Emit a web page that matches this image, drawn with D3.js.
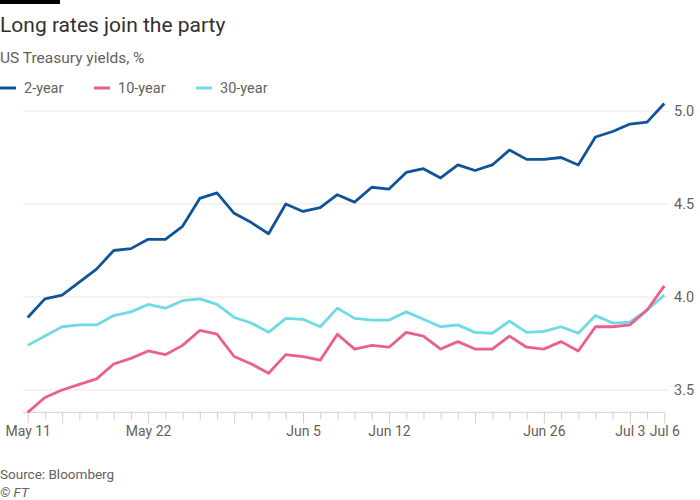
<!DOCTYPE html>
<html>
<head>
<meta charset="utf-8">
<script src="https://cdn.jsdelivr.net/npm/d3@7"></script>
<style>
  html, body { margin: 0; padding: 0; background: #ffffff; }
  svg { display: block; }
  text { font-family: Roboto, "Noto Sans", sans-serif; }
</style>
</head>
<body>
<svg id="chart" width="700" height="500"></svg>
<script>
// ---- Data ----
const dates = ["May 11","May 12","May 15","May 16","May 17","May 18","May 19",
  "May 22","May 23","May 24","May 25","May 26","May 30","May 31","Jun 1","Jun 2",
  "Jun 5","Jun 6","Jun 7","Jun 8","Jun 9","Jun 12","Jun 13","Jun 14","Jun 15","Jun 16",
  "Jun 20","Jun 21","Jun 22","Jun 23","Jun 26","Jun 27","Jun 28","Jun 29","Jun 30",
  "Jul 3","Jul 5","Jul 6"];

const twoYear = [3.89,3.99,4.01,4.08,4.15,4.25,4.26,4.31,4.31,4.38,4.53,4.56,4.45,4.40,4.34,4.50,
  4.46,4.48,4.55,4.51,4.59,4.58,4.67,4.69,4.64,4.71,4.68,4.71,4.79,4.74,4.74,4.75,4.71,4.86,4.89,
  4.93,4.94,5.04];

const tenYear = [3.38,3.46,3.50,3.53,3.56,3.64,3.67,3.71,3.69,3.74,3.82,3.80,3.68,3.64,3.59,3.69,
  3.68,3.66,3.80,3.72,3.74,3.73,3.81,3.79,3.72,3.76,3.72,3.72,3.79,3.73,3.72,3.76,3.71,3.84,3.84,
  3.85,3.93,4.06];

const thirtyYear = [3.74,3.79,3.84,3.85,3.85,3.90,3.92,3.96,3.94,3.98,3.99,3.96,3.89,3.86,3.81,3.885,
  3.88,3.84,3.94,3.885,3.876,3.876,3.92,3.88,3.84,3.85,3.81,3.805,3.87,3.81,3.815,3.84,3.805,3.90,3.86,
  3.865,3.93,4.01];

const seriesNames = ["2-year", "10-year", "30-year"];
const seriesColors = ["#0f5499", "#eb5e8d", "#6fdae4"];
const yTicks = [3.5, 4.0, 4.5, 5.0];
const xTickLabels = ["May 11","May 22","Jun 5","Jun 12","Jun 26","Jul 3","Jul 6"];

// ---- Layout ----
const svg = d3.select("#chart");

const x = d3.scalePoint().domain(dates).range([27.7, 664.3]);
const y = d3.scaleLinear().domain([3.5, 5.0]).range([390, 111]);
const allVals = twoYear.concat(tenYear, thirtyYear);
const plotBottom = y(d3.min(allVals));
const gridLeft = 23, gridRight = 668;

// Top black bar
svg.append("rect").attr("x", 0).attr("y", 0).attr("width", 60).attr("height", 4).attr("fill", "#000");

// Title & subtitle
svg.append("text").attr("x", 0).attr("y", 32)
  .attr("font-size", 21).attr("fill", "#33302e").text("Long rates join the party");
svg.append("text").attr("x", 0).attr("y", 63)
  .attr("font-size", 15.5).attr("fill", "#66605c").text("US Treasury yields, %");

// Legend
const legendX = [0, 94, 196];
seriesNames.forEach((name, i) => {
  const g = svg.append("g").attr("transform", `translate(${legendX[i]},88)`);
  g.append("line").attr("x1", 0).attr("x2", 16).attr("y1", 0).attr("y2", 0)
    .attr("stroke", seriesColors[i]).attr("stroke-width", 3);
  g.append("text").attr("x", 24).attr("y", 5).attr("font-size", 14.5)
    .attr("fill", "#66605c").text(name);
});

// Gridlines + y labels
const grid = svg.append("g");
yTicks.forEach(t => {
  grid.append("line").attr("x1", gridLeft).attr("x2", gridRight)
    .attr("y1", y(t)).attr("y2", y(t)).attr("stroke", "#ede4dc").attr("stroke-width", 1);
  grid.append("text").attr("x", 674).attr("y", y(t)).attr("dy", "0.35em")
    .attr("font-size", 14.5).attr("fill", "#66605c").text(d3.format(".1f")(t));
});

// X axis
const parse = d3.timeParse("%b %d %Y");
const longTick = new Set(xTickLabels);
dates.forEach((d, i) => {
  if (i > 0) {
    const prev = parse(dates[i-1] + " 2023"), cur = parse(d + " 2023");
    if (cur.getDay() < prev.getDay()) longTick.add(d);
  }
});
const xAxis = d3.axisBottom(x)
  .tickValues(dates)
  .tickSize(0)
  .tickFormat(d => xTickLabels.includes(d) ? d : "");
const gx = svg.append("g").attr("transform", `translate(0,${plotBottom})`).call(xAxis);
gx.select(".domain").remove();
gx.selectAll(".tick line").remove();
gx.selectAll(".tick").append("line")
  .attr("y1", 0).attr("y2", d => longTick.has(d) ? 11 : 7)
  .attr("stroke", "#d6ccc3").attr("stroke-width", 1);
gx.selectAll(".tick text").attr("y", 24).attr("dy", 0)
  .attr("font-size", 14).attr("fill", "#66605c")
  .attr("font-family", "Roboto, 'Noto Sans', sans-serif");
gx.append("line").attr("x1", gridLeft).attr("x2", x(dates[dates.length-1]))
  .attr("y1", 0).attr("y2", 0).attr("stroke", "#d6ccc3").attr("stroke-width", 1);

// Lines
const seriesData = [twoYear, tenYear, thirtyYear];
const line = d3.line().x((d, i) => x(dates[i])).y(d => y(d));
[2, 1, 0].forEach(k => {
  svg.append("path").datum(seriesData[k])
    .attr("fill", "none").attr("stroke", seriesColors[k])
    .attr("stroke-width", 2.8).attr("stroke-linejoin", "round")
    .attr("d", line);
});

// Footer
svg.append("text").attr("x", 0).attr("y", 479).attr("font-size", 13.5)
  .attr("fill", "#66605c").text("Source: Bloomberg");
svg.append("text").attr("x", 0).attr("y", 497).attr("font-size", 13.5)
  .attr("font-style", "italic").attr("fill", "#66605c").text("© FT");
</script>
</body>
</html>
